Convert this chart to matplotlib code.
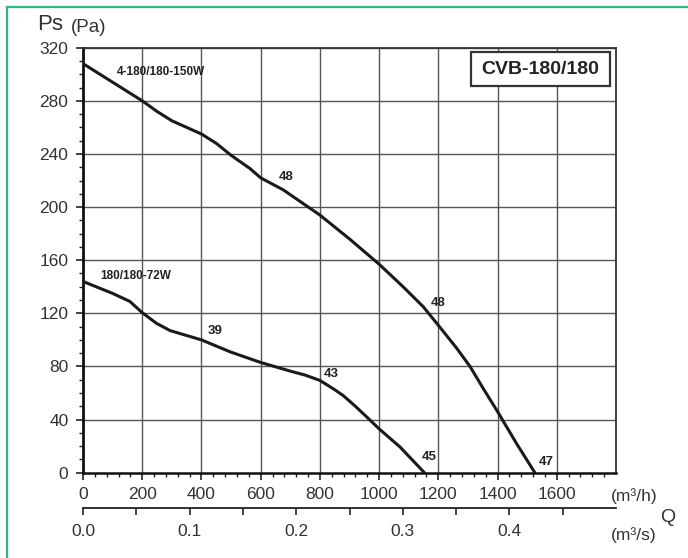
import matplotlib
matplotlib.use("Agg")
import matplotlib.pyplot as plt
from matplotlib.ticker import FixedLocator, FormatStrFormatter
from matplotlib.patches import Rectangle
from matplotlib.lines import Line2D

plt.rcParams["font.family"] = ["Liberation Sans", "DejaVu Sans"]

# fan curves: Q in m3/h, Ps in Pa
q_150w = [0, 100, 200, 250, 300, 350, 400, 450, 500, 564, 600, 676, 800, 900, 1000,
          1081, 1149, 1200, 1261, 1307, 1350, 1400, 1464, 1526]
ps_150w = [308, 294, 280, 272, 265, 260, 255, 248, 239, 229, 222, 213, 194, 176, 157,
           140, 125, 111, 94, 80, 64, 46, 22, 0]

q_72w = [0, 100, 158, 200, 248, 294, 400, 497, 600, 700, 750, 800, 850, 879,
         920, 958, 1000, 1070, 1153]
ps_72w = [144, 135, 129, 120.5, 112.5, 107, 100, 91, 83, 76.5, 73.5, 69.5, 62.5, 58,
          50, 42, 33, 19.5, 0]

# curve annotations (text, Q, Ps)
curve_names = [("4-180/180-150W", 115, 302), ("180/180-72W", 57, 148)]
curve_marks = [("48", 685, 223), ("48", 1198, 128), ("47", 1566, 8),
               ("39", 446, 107), ("43", 837, 74), ("45", 1168, 12)]

x_major = list(range(0, 1601, 200))
x_minor = [v for v in range(0, 1801, 40) if v % 200 != 0]
y_major = list(range(0, 321, 40))
y_minor = [v for v in range(0, 321, 10) if v % 40 != 0]
qs_major = [0.0, 0.1, 0.2, 0.3, 0.4]
qs_minor = [0.05, 0.15, 0.25, 0.35, 0.45]

W, H = 688, 558
fig = plt.figure(figsize=(W / 100, H / 100), dpi=100)


def fx(px):
    return px / W


def fy(py):
    return 1 - py / H


ax = fig.add_axes([fx(83), fy(472.7), fx(616) - fx(83), fy(47.7) - fy(472.7)])
ax.set_xlim(0, 1800)
ax.set_ylim(0, 320)

ax.plot(q_150w, ps_150w, color="#1a1a1a", lw=2.2, solid_joinstyle="round", zorder=3)
ax.plot(q_72w, ps_72w, color="#1a1a1a", lw=2.2, solid_joinstyle="round", zorder=3)

for txt, q, p in curve_names:
    ax.text(q, p, txt, fontsize=8.5, fontweight="bold", color="#222",
            ha="left", va="center", zorder=4)
for txt, q, p in curve_marks:
    ax.text(q, p, txt, fontsize=9.5, fontweight="bold", color="#222",
            ha="center", va="center", zorder=4)

# grid
for v in x_major[1:]:
    ax.axvline(v, color="#555", lw=1.0, zorder=1)
for v in y_major[1:]:
    ax.axhline(v, color="#555", lw=1.0, zorder=1)

ax.xaxis.set_major_locator(FixedLocator(x_major))
ax.xaxis.set_minor_locator(FixedLocator(x_minor))
ax.yaxis.set_major_locator(FixedLocator(y_major))
ax.yaxis.set_minor_locator(FixedLocator(y_minor))
ax.tick_params(which="major", direction="out", length=5, width=1.2,
               color="#222", labelsize=12.5, labelcolor="#333")
ax.tick_params(which="minor", direction="out", length=2.6, width=1.0, color="#222")
ax.tick_params(axis="x", which="major", pad=5.5)
ax.tick_params(axis="y", which="major", pad=5.5)

ax.spines["left"].set_linewidth(2.0)
ax.spines["bottom"].set_linewidth(1.8)
ax.spines["left"].set_color("#111")
ax.spines["bottom"].set_color("#111")
for s in ("top", "right"):
    ax.spines[s].set_linewidth(1.3)
    ax.spines[s].set_color("#333")

# second flow scale in m3/s
sec = ax.secondary_xaxis(-0.083, functions=(lambda q: q / 3600, lambda q: q * 3600))
sec.xaxis.set_major_locator(FixedLocator(qs_major))
sec.xaxis.set_minor_locator(FixedLocator(qs_minor))
sec.xaxis.set_major_formatter(FormatStrFormatter("%.1f"))
sec.tick_params(which="both", direction="out", length=5, width=1.2, color="#222",
                labelsize=12.5, labelcolor="#333", pad=6.5)
sec.spines["bottom"].set_linewidth(1.3)
sec.spines["bottom"].set_color("#222")

# model box
ax.add_patch(Rectangle((fx(471), fy(86)), fx(610) - fx(471), fy(52) - fy(86),
                       transform=fig.transFigure, fill=True, facecolor="white",
                       edgecolor="#333", lw=1.6, zorder=5))
fig.text(fx(540.5), fy(69), "CVB-180/180", fontsize=14, fontweight="bold",
         color="#222", ha="center", va="center", zorder=6)

# axis captions
fig.text(fx(37), fy(25), "Ps", fontsize=16, color="#333", ha="left", va="center")
fig.text(fx(71), fy(28), "(Pa)", fontsize=13.5, color="#333", ha="left", va="center")
fig.text(fx(634), fy(496), "(m³/h)", fontsize=12.5, color="#333", ha="center", va="center")
fig.text(fx(668), fy(517), "Q", fontsize=14, color="#333", ha="center", va="center")
fig.text(fx(634), fy(535), "(m³/s)", fontsize=12.5, color="#333", ha="center", va="center")

# green frame
fig.add_artist(Line2D([fx(6.5), 1.0], [fy(6.5), fy(6.5)], transform=fig.transFigure,
                      color="#2db87c", lw=1.6))
fig.add_artist(Line2D([fx(6.5), fx(6.5)], [fy(6.5), 0.0], transform=fig.transFigure,
                      color="#2db87c", lw=1.6))

fig.savefig("out.png", dpi=100, facecolor="white")
